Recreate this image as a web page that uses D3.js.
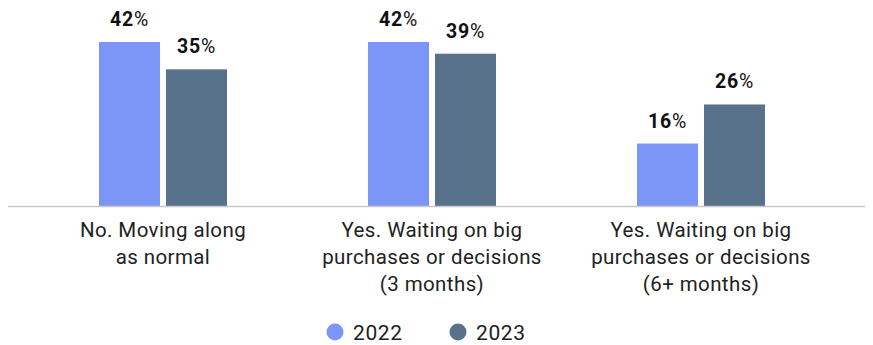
<!DOCTYPE html>
<html>
<head>
<meta charset="utf-8">
<script src="https://cdn.jsdelivr.net/npm/d3@7"></script>
<style>
  html, body { margin: 0; padding: 0; background: #fff; }
  svg { display: block; font-family: Roboto, "Noto Sans", sans-serif; }
</style>
</head>
<body>
<svg id="chart" width="873" height="345"></svg>
<script>
const categories = [
  ["No. Moving along", "as normal"],
  ["Yes. Waiting on big", "purchases or decisions", "(3 months)"],
  ["Yes. Waiting on big", "purchases or decisions", "(6+ months)"]
];
const seriesNames = ["2022", "2023"];
const values2022 = [42, 42, 16];
const values2023 = [35, 39, 26];
const colors = ["#7b96f7", "#58728c"];

const svg = d3.select("#chart");
const baseY = 206;

const x0 = d3.scaleBand().domain(d3.range(categories.length)).range([28.5, 835.5]);
const x1 = d3.scaleBand().domain(seriesNames).range([0, 128]).paddingInner(6 / 67);
const y = d3.scaleLinear().domain([0, 42]).range([baseY, 42]);

const rows = categories.map((c, i) => ({ i, vals: [values2022[i], values2023[i]] }));

const groups = svg.selectAll("g.grp").data(rows).join("g")
  .attr("class", "grp")
  .attr("transform", d => `translate(${x0(d.i) + x0.bandwidth() / 2 - 64},0)`);

groups.selectAll("rect").data(d => d.vals.map((v, k) => ({ v, k }))).join("rect")
  .attr("x", d => x1(seriesNames[d.k]))
  .attr("y", d => y(d.v))
  .attr("width", x1.bandwidth())
  .attr("height", d => baseY - y(d.v))
  .attr("fill", d => colors[d.k]);

const lbl = groups.selectAll("text.val").data(d => d.vals.map((v, k) => ({ v, k }))).join("text")
  .attr("class", "val")
  .attr("x", d => x1(seriesNames[d.k]) + x1.bandwidth() / 2)
  .attr("y", d => y(d.v) - 16)
  .attr("text-anchor", "middle")
  .attr("font-size", 19.5)
  .attr("letter-spacing", 0.8)
  .attr("fill", "#111");
lbl.append("tspan").attr("font-weight", "bold").text(d => d.v);
lbl.append("tspan").text("%");

// baseline
svg.append("line")
  .attr("x1", 8).attr("x2", 865)
  .attr("y1", baseY + 0.5).attr("y2", baseY + 0.5)
  .attr("stroke", "#c8c8c8").attr("stroke-width", 1.5);

// category labels
categories.forEach((lines, i) => {
  const t = svg.append("text")
    .attr("text-anchor", "middle")
    .attr("font-size", 20.5)
    .attr("letter-spacing", 0.4)
    .attr("fill", "#222");
  lines.forEach((ln, j) => {
    t.append("tspan")
      .attr("x", x0(i) + x0.bandwidth() / 2)
      .attr("y", 237 + j * 27)
      .text(ln);
  });
});

// legend
const legX = [335, 458];
seriesNames.forEach((name, k) => {
  const g = svg.append("g").attr("transform", `translate(${legX[k]},332)`);
  g.append("circle").attr("r", 8.5).attr("fill", colors[k]);
  g.append("text").attr("x", 18).attr("y", 7.5)
    .attr("font-size", 21).attr("letter-spacing", 0.6)
    .attr("fill", "#222").text(name);
});
</script>
</body>
</html>
